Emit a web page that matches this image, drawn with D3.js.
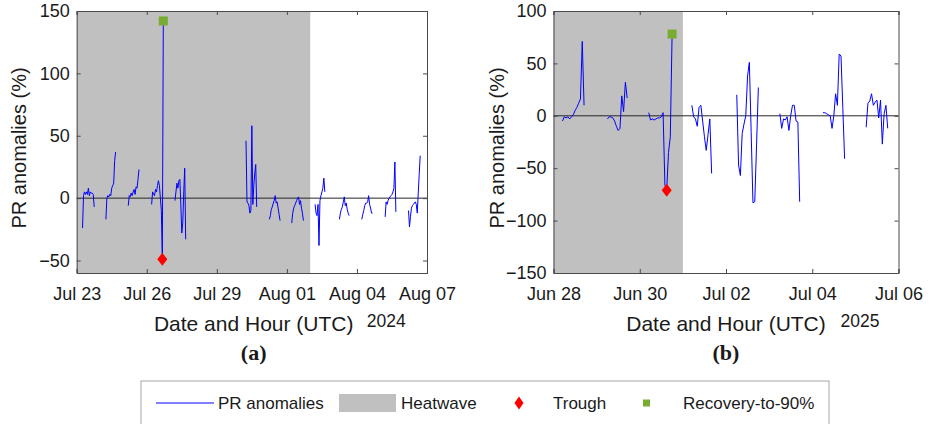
<!DOCTYPE html>
<html>
<head>
<meta charset="utf-8">
<script src="https://cdn.jsdelivr.net/npm/d3@7"></script>
<style>
  body { margin: 0; background: #fff; }
  text { font-family: "Liberation Sans", Arial, sans-serif; fill: #1a1a1a; }
</style>
</head>
<body>
<script>
// ---- panel (a): 2024 ----
// each segment = one day of daytime hourly values, starting at segStartA
var segStartA = ["2024-07-23T06", "2024-07-24T06", "2024-07-25T05", "2024-07-26T05", "2024-07-27T05",
                 "2024-07-30T06", "2024-07-31T06", "2024-08-01T05", "2024-08-02T05", "2024-08-03T06",
                 "2024-08-04T05", "2024-08-05T05", "2024-08-06T05"]
var prA = [
  [-24, 2, 5, 3, 5, 3, 8, 2, 5, 4, 4, 3, -7],
  [-17, 0, 2, 1, 3, 2, 8, 10, 12, 30, 37],
  [-6, 2, 1, 4, 2, 5, 7, 3, 9, 8, 15, 23],
  [-5, 5, 3, 2, 7, 5, 10, 14, 10, 0, -10, -49, 142],
  [-2, 5, 12, 8, 14, 15, -5, -28, -20, 5, 24, -33],
  [46, -3, -4, -6, -12, -10, 58, -5, 10, 20, 27, -7],
  [-17, -14, -9, -7, -4, -2, 2, -4, -3, -8, -13, -18],
  [-20, -12, -8, -6, -4, -2, 0, 1, -5, -2, -8, -12, -18],
  [-5, -12, -14, -5, -38, -2, 2, 5, 8, 16, 5],
  [-17, -12, -9, -7, -3, 1, -6, -4, -9, -12, -14],
  [-17, -13, -10, -6, -4, -4, -3, 2, -5, -8, -12, -12],
  [-15, -3, -5, -2, 0, 1, 2, 3, 5, 8, 29, -11],
  [-10, -23, -15, -8, -6, -5, -4, -3, -5, -12, 4, 19, 34]
]
var domainA = ["2024-07-23", "2024-08-07"]
var heatwaveA = ["2024-07-23", "2024-08-02"]
var troughA = ["2024-07-26T16", -49]
var recoveryA = ["2024-07-26T17", 142]
var yDomainA = [-60, 150]
var yTicksA = [-50, 0, 50, 100, 150]
var xTicksA = ["2024-07-23", "2024-07-26", "2024-07-29", "2024-08-01", "2024-08-04", "2024-08-07"]

// ---- panel (b): 2025 ----
var segStartB = ["2025-06-28T05", "2025-06-29T06", "2025-06-30T05", "2025-07-01T05",
                 "2025-07-02T06", "2025-07-03T06", "2025-07-04T06", "2025-07-05T06"]
var prB = [
  [-5, -1, -2, -1, -3, -1, 1, 5, 8, 12, 16, 71, 10],
  [-3, -1, -1, -2, -5, -10, -14, -12, 19, 4, 32, 17],
  [3, -4, -3, -4, -3, -2, -2, -1, 3, -66, -71, -35, -20, 78],
  [10, -1, -3, -10, 8, 10, -5, -20, -33, -18, -3, -55],
  [20, -47, -57, -17, -8, 0, 38, 51, -15, -83, -82, -28, 27],
  [2, -12, -3, -4, -1, -14, 0, 10, 10, -5, -6, -82],
  [3, 3, 2, 1, 0, -12, 0, 21, 10, 59, 57, 8, -41],
  [-11, 12, 14, 21, 10, 13, 15, -2, 15, -27, 2, 10, -12]
]
var domainB = ["2025-06-28", "2025-07-06"]
var heatwaveB = ["2025-06-28", "2025-07-01"]
var troughB = ["2025-06-30T15", -71]
var recoveryB = ["2025-06-30T18", 78]
var yDomainB = [-150, 100]
var yTicksB = [-150, -100, -50, 0, 50, 100]
var xTicksB = ["2025-06-28", "2025-06-30", "2025-07-02", "2025-07-04", "2025-07-06"]

var legendLabels = ["PR anomalies", "Heatwave", "Trough", "Recovery-to-90%"]

var blue = "#0000ff", grey = "#c0c0c0", red = "#ff0000", green = "#77ac30", axisCol = "#4a4a4a"

function t(s) { return s.length == 10 ? new Date(s + "T00:00Z") : new Date(s + ":00Z") }

function diamond(w, h) { return "M0," + (-h) + "L" + w + ",0L0," + h + "L" + (-w) + ",0Z" }

var svg = d3.select('body').append('svg').attr('width', 933).attr('height', 424)

function panel(o) {
  var w = o.w, h = 262
  var g = svg.append('g').attr('transform', "translate(" + o.left + ",11)")
  var x = d3.scaleUtc().domain(o.domain.map(t)).range([0, w])
  var y = d3.scaleLinear().domain(o.yDomain).range([h, 0])

  // heatwave shading
  g.append('rect').attr('x', x(t(o.heat[0]))).attr('y', 0)
    .attr('width', x(t(o.heat[1])) - x(t(o.heat[0]))).attr('height', h).attr('fill', grey)

  // zero line
  g.append('line').attr('x1', 0).attr('x2', w).attr('y1', y(0)).attr('y2', y(0))
    .attr('stroke', '#262626').attr('stroke-width', 1)

  // segments
  var segs = o.vals.map(function(v, i) {
    var s = t(o.starts[i])
    return v.map(function(d, k) { return { time: d3.utcHour.offset(s, k), v: d } })
  })
  var line = d3.line().x(function(d) { return x(d.time) }).y(function(d) { return y(d.v) })
  g.selectAll('.seg').data(segs).enter().append('path').attr('class', 'seg')
    .attr('d', line).attr('fill', 'none').attr('stroke', blue).attr('stroke-width', 1)

  // markers
  g.append('path').attr('d', diamond(5, 6.5)).attr('fill', red)
    .attr('transform', "translate(" + x(t(o.trough[0])) + "," + y(o.trough[1]) + ")")
  g.append('rect').attr('x', x(t(o.rec[0])) - 4.5).attr('y', y(o.rec[1]) - 4.5)
    .attr('width', 9).attr('height', 9).attr('fill', green)

  // axes, ticks inside like matlab
  var xt = o.xTicks.map(t)
  var fmt = d3.utcFormat("%b %d")
  g.append('g').attr('transform', "translate(0," + h + ")")
    .call(d3.axisBottom(x).tickValues(xt).tickFormat(fmt).tickSize(-4).tickPadding(14))
  g.append('g').call(d3.axisTop(x).tickValues(xt).tickFormat("").tickSize(-4))
  g.append('g').call(d3.axisLeft(y).tickValues(o.yTicks).tickSize(-4).tickPadding(7))
  g.append('g').attr('transform', "translate(" + w + ",0)")
    .call(d3.axisRight(y).tickValues(o.yTicks).tickFormat("").tickSize(-4))
  g.selectAll('.domain, .tick line').attr('stroke', axisCol)
  g.selectAll('.tick text').style('font-size', '18px').attr('fill', '#1a1a1a')
    .style('font-family', '"Liberation Sans", Arial, sans-serif')

  // labels
  g.append('text').attr('transform', "translate(" + o.ylabX + "," + (h / 2 + 6) + ") rotate(-90)")
    .attr('text-anchor', 'middle').attr('dominant-baseline', 'central')
    .style('font-size', '20px').text("PR anomalies (%)")
  g.append('text').attr('x', o.labX).attr('y', 312).attr('text-anchor', 'middle')
    .attr('dominant-baseline', 'central').style('font-size', '21px').text("Date and Hour (UTC)")
  g.append('text').attr('x', o.yearX).attr('y', 310).attr('text-anchor', 'start')
    .attr('dominant-baseline', 'central').style('font-size', '17.5px').text(o.year)
  g.append('text').attr('x', o.labX).attr('y', 341).attr('text-anchor', 'middle')
    .attr('dominant-baseline', 'central').style('font-size', '22px').style('font-weight', 'bold')
    .style('font-family', '"Liberation Serif", "Times New Roman", serif').text(o.tag)
}

panel({ left: 76.7, w: 350.3, domain: domainA, heat: heatwaveA, starts: segStartA, vals: prA,
        trough: troughA, rec: recoveryA, yDomain: yDomainA, yTicks: yTicksA, xTicks: xTicksA,
        ylabX: -58, labX: 177, yearX: 290, year: "2024", tag: "(a)" })
panel({ left: 553.5, w: 345, domain: domainB, heat: heatwaveB, starts: segStartB, vals: prB,
        trough: troughB, rec: recoveryB, yDomain: yDomainB, yTicks: yTicksB, xTicks: xTicksB,
        ylabX: -57, labX: 172.5, yearX: 287, year: "2025", tag: "(b)" })

// legend
var lg = svg.append('g')
lg.append('rect').attr('x', 141).attr('y', 381).attr('width', 688).attr('height', 50)
  .attr('fill', '#fff').attr('stroke', '#a6a6a6').attr('stroke-width', 1)
var ly = 403
lg.append('line').attr('x1', 156).attr('x2', 214).attr('y1', ly).attr('y2', ly).attr('stroke', blue).attr('stroke-width', 1)
lg.append('rect').attr('x', 339).attr('y', 394).attr('width', 57).attr('height', 18).attr('fill', grey)
lg.append('path').attr('d', diamond(4.5, 6.5)).attr('fill', red).attr('transform', "translate(519," + ly + ")")
lg.append('rect').attr('x', 643).attr('y', ly - 3.5).attr('width', 7).attr('height', 7).attr('fill', green)
var lx = [218, 401, 553, 683]
lg.selectAll('.lt').data(legendLabels).enter().append('text').attr('class', 'lt')
  .attr('x', function(d, i) { return lx[i] }).attr('y', ly).attr('dominant-baseline', 'central')
  .style('font-size', '17px').text(function(d) { return d })
</script>
</body>
</html>
